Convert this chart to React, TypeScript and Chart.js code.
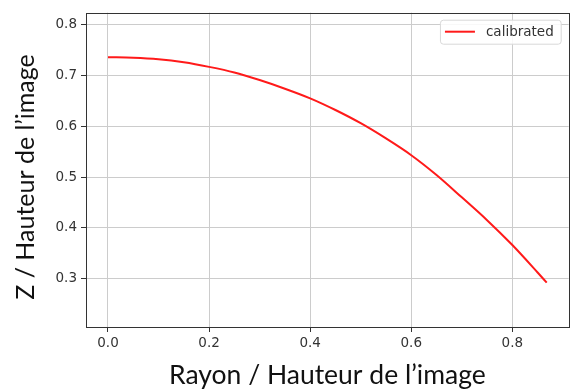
import React, { useEffect, useRef } from "react";
import { Chart, registerables } from "chart.js";

Chart.register(...registerables);

// Calibrated profile: normalized radius vs normalized height
const radius = [0, 0.05, 0.1, 0.15, 0.2, 0.25, 0.3, 0.35, 0.4, 0.45, 0.5, 0.55, 0.6, 0.65, 0.7, 0.75, 0.8, 0.85, 0.868];
const height = [0.736, 0.735, 0.732, 0.726, 0.717, 0.706, 0.691, 0.674, 0.655, 0.632, 0.606, 0.576, 0.543, 0.504, 0.46, 0.415, 0.366, 0.312, 0.292];

const xTicks = [0.0, 0.2, 0.4, 0.6, 0.8];
const yTicks = [0.3, 0.4, 0.5, 0.6, 0.7, 0.8];

const seriesLabel = "calibrated";
const xTitle = "Rayon / Hauteur de l\u2019image";
const yTitle = "Z / Hauteur de l\u2019image";

const TICK_FONT = "'DejaVu Sans', sans-serif";
const TITLE_FONT = "Lato, 'Open Sans', sans-serif";

// Full rectangular frame around the plotting area
const framePlugin = {
  id: "frame",
  afterDatasetsDraw(chart: any) {
    const { ctx, chartArea } = chart;
    ctx.save();
    ctx.strokeStyle = "#333333";
    ctx.lineWidth = 1;
    ctx.strokeRect(
      Math.round(chartArea.left) + 0.5,
      Math.round(chartArea.top) + 0.5,
      Math.round(chartArea.right - chartArea.left),
      Math.round(chartArea.bottom - chartArea.top)
    );
    ctx.restore();
  },
};

// Vertical axis title, placed beside the tick labels
const yTitlePlugin = {
  id: "yTitle",
  afterDraw(chart: any) {
    const { ctx } = chart;
    ctx.save();
    ctx.translate(26, 177);
    ctx.rotate(-Math.PI / 2);
    ctx.font = `25px ${TITLE_FONT}`;
    ctx.fillStyle = "#111111";
    ctx.textAlign = "center";
    ctx.textBaseline = "middle";
    ctx.fillText(yTitle, 0, 0);
    ctx.restore();
  },
};

// Boxed legend in the upper right corner
const boxLegendPlugin = {
  id: "boxLegend",
  afterDraw(chart: any) {
    const { ctx, chartArea } = chart;
    const ds = chart.data.datasets[0];
    ctx.save();
    ctx.font = `13.5px ${TICK_FONT}`;
    const textW = ctx.measureText(ds.label).width;
    const w = 6 + 30 + 11 + textW + 6;
    const h = 24;
    const x = chartArea.right - 8 - w;
    const y = chartArea.top + 7;
    ctx.beginPath();
    ctx.roundRect(x + 0.5, y + 0.5, w, h, 3);
    ctx.fillStyle = "rgba(255,255,255,0.85)";
    ctx.fill();
    ctx.strokeStyle = "#d8d8d8";
    ctx.lineWidth = 1;
    ctx.stroke();
    ctx.beginPath();
    ctx.moveTo(x + 5, y + h / 2);
    ctx.lineTo(x + 35, y + h / 2);
    ctx.strokeStyle = ds.borderColor;
    ctx.lineWidth = 2;
    ctx.stroke();
    ctx.fillStyle = "#333333";
    ctx.textBaseline = "middle";
    ctx.fillText(ds.label, x + 46, y + h / 2 + 1);
    ctx.restore();
  },
};

export default function App() {
  const canvasRef = useRef<HTMLCanvasElement | null>(null);

  useEffect(() => {
    if (!canvasRef.current) return;
    const chart = new Chart(canvasRef.current, {
      type: "line",
      data: {
        datasets: [
          {
            label: seriesLabel,
            data: radius.map((r, i) => ({ x: r, y: height[i] })),
            borderColor: "#ff1a1a",
            borderWidth: 2,
            pointRadius: 0,
            cubicInterpolationMode: "monotone",
            fill: false,
          },
        ],
      },
      options: {
        animation: false,
        responsive: false,
        layout: { padding: { top: 12.7, right: 7.3, bottom: 0, left: 0 } },
        plugins: {
          legend: { display: false },
          tooltip: { enabled: false },
        },
        scales: {
          x: {
            type: "linear",
            min: -0.0435,
            max: 0.9115,
            afterBuildTicks: (scale: any) => {
              scale.ticks = xTicks.map((v) => ({ value: v }));
            },
            afterFit: (scale: any) => {
              scale.height = 62;
            },
            border: { display: false },
            grid: { color: "#cccccc", lineWidth: 1, tickLength: 5, tickColor: "#333333" },
            ticks: {
              color: "#333333",
              font: { family: TICK_FONT, size: 13.5 },
              padding: 3,
              maxRotation: 0,
              callback: (v: any) => Number(v).toFixed(1),
            },
            title: {
              display: true,
              text: xTitle,
              color: "#111111",
              font: { family: TITLE_FONT, size: 26.5, lineHeight: 1 },
              padding: { top: 0, bottom: 0 },
            },
          },
          y: {
            type: "linear",
            min: 0.2046,
            max: 0.8237,
            afterBuildTicks: (scale: any) => {
              scale.ticks = yTicks.map((v) => ({ value: v }));
            },
            afterFit: (scale: any) => {
              scale.width = 86;
            },
            border: { display: false },
            grid: { color: "#cccccc", lineWidth: 1, tickLength: 5, tickColor: "#333333" },
            ticks: {
              color: "#333333",
              font: { family: TICK_FONT, size: 13.5 },
              padding: 4,
              callback: (v: any) => Number(v).toFixed(1),
            },
          },
        },
      },
      plugins: [framePlugin, yTitlePlugin, boxLegendPlugin],
    } as any);
    return () => chart.destroy();
  }, []);

  return (
    <div style={{ position: "fixed", left: 0, top: 0, width: 576, height: 389, background: "#ffffff" }}>
      <canvas ref={canvasRef} width={576} height={389} />
    </div>
  );
}
